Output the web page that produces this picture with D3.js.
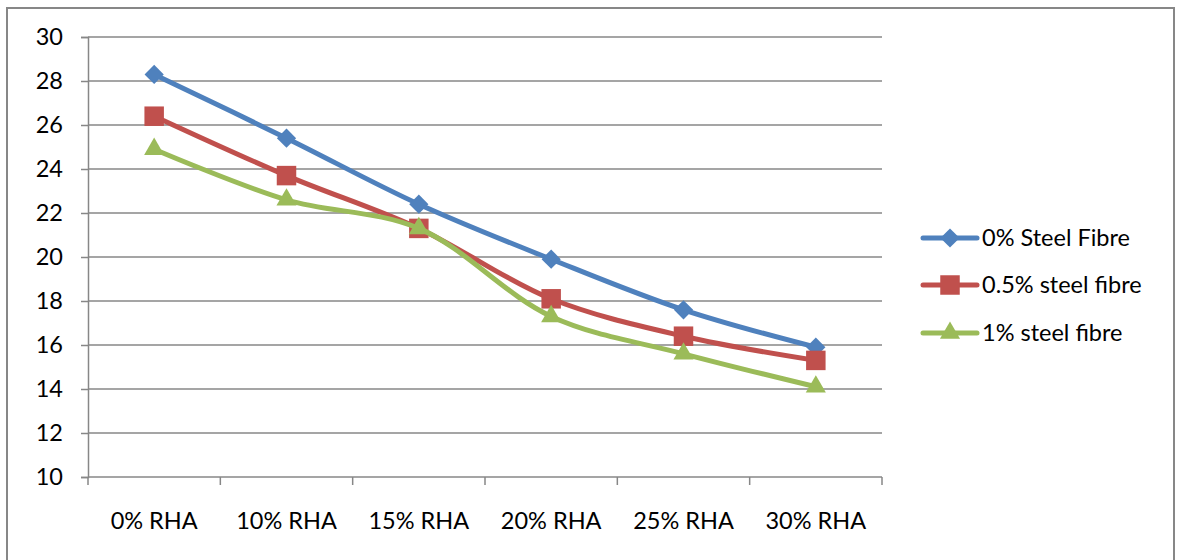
<!DOCTYPE html>
<html>
<head>
<meta charset="utf-8">
<script src="https://cdn.jsdelivr.net/npm/d3@7"></script>
<style>
  html, body { margin: 0; padding: 0; background: #fff; }
  svg { display: block; font-family: Lato, "Open Sans", sans-serif; }
</style>
</head>
<body>
<svg id="chart" width="1177" height="560"></svg>
<script>
// RHA replacement levels along the x axis
const categories = ["0% RHA", "10% RHA", "15% RHA", "20% RHA", "25% RHA", "30% RHA"];

// Strength values for each steel fibre content
const fibre0   = [28.3, 25.4, 22.4, 19.9, 17.6, 15.9];
const fibre05  = [26.4, 23.7, 21.3, 18.1, 16.4, 15.3];
const fibre1   = [24.9, 22.6, 21.3, 17.3, 15.6, 14.1];

const seriesNames = ["0% Steel Fibre", "0.5% steel fibre", "1% steel fibre"];
const yTicks = [10, 12, 14, 16, 18, 20, 22, 24, 26, 28, 30];

const series = [
  { name: seriesNames[0], values: fibre0,  color: "#4F81BD", symbol: d3.symbolSquare,   size: 185, rot: 45 },
  { name: seriesNames[1], values: fibre05, color: "#C0504D", symbol: d3.symbolSquare,   size: 380, rot: 0 },
  { name: seriesNames[2], values: fibre1,  color: "#9BBB59", symbol: d3.symbolTriangle, size: 175, rot: 0 }
];

const svg = d3.select("#chart");
const grey = "#878787";
const fontSize = 23.5;

// chart frame
svg.append("rect")
  .attr("x", 7).attr("y", 8)
  .attr("width", 1167).attr("height", 570)
  .attr("fill", "none").attr("stroke", grey).attr("stroke-width", 2);

const plot = { left: 88, right: 882, top: 37, bottom: 477 };

const x = d3.scaleBand().domain(categories).range([plot.left, plot.right]);
const y = d3.scaleLinear().domain([10, 30]).range([plot.bottom, plot.top]);

// horizontal gridlines
svg.append("g")
  .selectAll("line")
  .data(yTicks.slice(1))
  .join("line")
  .attr("x1", plot.left).attr("x2", plot.right)
  .attr("y1", d => y(d)).attr("y2", d => y(d))
  .attr("stroke", grey).attr("stroke-width", 1.5);

// y axis
const yAxis = svg.append("g")
  .attr("transform", `translate(${plot.left},0)`)
  .call(d3.axisLeft(y).tickValues(yTicks).tickSize(7).tickPadding(18));
yAxis.select(".domain").attr("stroke", grey).attr("stroke-width", 1.5);
yAxis.selectAll(".tick line").attr("stroke", grey).attr("stroke-width", 1.5);
yAxis.selectAll(".tick text")
  .attr("font-size", fontSize).attr("fill", "#000")
  .attr("font-family", "Lato, 'Open Sans', sans-serif");

// x axis with tick marks at band boundaries
const xAxis = svg.append("g")
  .attr("transform", `translate(0,${plot.bottom})`);
xAxis.append("line")
  .attr("x1", plot.left).attr("x2", plot.right)
  .attr("stroke", grey).attr("stroke-width", 1.5);
const bounds = categories.map(c => x(c)).concat([x(categories[categories.length - 1]) + x.bandwidth()]);
xAxis.selectAll("line.tk")
  .data(bounds)
  .join("line")
  .attr("class", "tk")
  .attr("x1", d => d).attr("x2", d => d)
  .attr("y1", 0).attr("y2", 8)
  .attr("stroke", grey).attr("stroke-width", 1.5);
xAxis.selectAll("text")
  .data(categories)
  .join("text")
  .attr("x", d => x(d) + x.bandwidth() / 2)
  .attr("y", 52)
  .attr("text-anchor", "middle")
  .attr("font-size", fontSize)
  .attr("fill", "#000")
  .text(d => d);

// series lines and markers
const line = d3.line()
  .x((d, i) => x(categories[i]) + x.bandwidth() / 2)
  .y(d => y(d))
  .curve(d3.curveCatmullRom.alpha(0.5));

series.forEach(s => {
  svg.append("path")
    .datum(s.values)
    .attr("d", line)
    .attr("fill", "none")
    .attr("stroke", s.color)
    .attr("stroke-width", 5)
    .attr("stroke-linejoin", "round");
  svg.append("g")
    .selectAll("path")
    .data(s.values)
    .join("path")
    .attr("d", d3.symbol().type(s.symbol).size(s.size))
    .attr("transform", (d, i) => `translate(${x(categories[i]) + x.bandwidth() / 2},${y(d)}) rotate(${s.rot})`)
    .attr("fill", s.color);
});

// legend
const legend = svg.append("g");
const legendY = [238, 285, 333];
series.forEach((s, i) => {
  const g = legend.append("g").attr("transform", `translate(0,${legendY[i]})`);
  g.append("line")
    .attr("x1", 923).attr("x2", 977)
    .attr("stroke", s.color).attr("stroke-width", 5).attr("stroke-linecap", "round");
  g.append("path")
    .attr("d", d3.symbol().type(s.symbol).size(s.size))
    .attr("transform", `translate(950,0) rotate(${s.rot})`)
    .attr("fill", s.color);
  g.append("text")
    .attr("x", 982).attr("y", 0)
    .attr("dy", "0.35em")
    .attr("font-size", fontSize)
    .attr("fill", "#000")
    .text(s.name);
});
</script>
</body>
</html>
